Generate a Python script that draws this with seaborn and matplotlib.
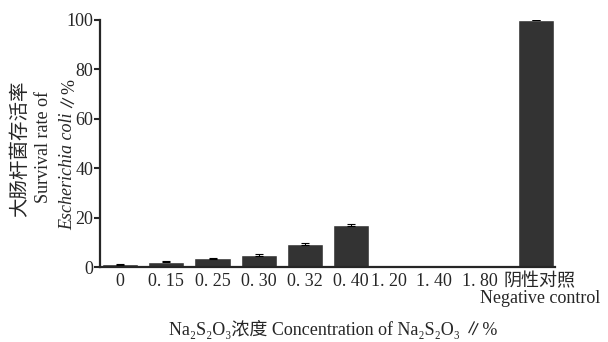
import numpy as np
import seaborn as sns
import pandas as pd
from matplotlib import pyplot as plt
from matplotlib.transforms import ScaledTranslation

# Na2S2O3 concentration groups and E. coli survival rate (%)
conc_labels = ["0", "0. 15", "0. 25", "0. 30", "0. 32", "0. 40", "1. 20", "1. 40", "1. 80",
               "阴性对照"]
control_en = "Negative control"
survival = [1.1, 2.1, 3.5, 4.9, 9.4, 17.0, 0.0, 0.0, 0.0, 100.0]
survival_sd = [0.2, 0.2, 0.2, 0.3, 0.5, 0.3, 0.0, 0.0, 0.0, 0.0]

sns.set_style("ticks")
plt.rcParams["font.family"] = ["Liberation Serif", "Noto Sans CJK SC", "DejaVu Serif"]

df = pd.DataFrame({"conc": conc_labels, "rate": survival, "sd": survival_sd})

fig = plt.figure(figsize=(6.08, 3.42), dpi=100)
ax = fig.add_axes([100 / 608, 1 - 267 / 342, 455 / 608, 247 / 342])

sns.barplot(data=df, x="conc", y="rate", color="#333333", saturation=1,
            width=0.78, errorbar=None, ax=ax)
ax.errorbar(np.arange(len(df)), df["rate"], yerr=df["sd"], fmt="none",
            ecolor="black", elinewidth=0.8, capsize=3, capthick=0.8)

ax.set_xlim(-0.434, 9.41)
ax.set_ylim(0, 100)
ax.set_yticks([0, 20, 40, 60, 80, 100])
ax.tick_params(axis="y", labelsize=13, width=1.5, length=4, direction="out", pad=1)
ax.tick_params(axis="x", labelsize=13, length=0, pad=4)
# the last few labels sit a little off their bars in the original
shifts = [0, 0, 0, 0, 0, 0, -8, -10, -10, 3]
for lab, dx in zip(ax.get_xticklabels(), shifts):
    lab.set_transform(lab.get_transform() + ScaledTranslation(dx / 100, 0, fig.dpi_scale_trans))
# English line of the control label, under its Chinese name
ax.text(len(df) - 1, -0.126, control_en, transform=ax.get_xaxis_transform()
        + ScaledTranslation(4 / 100, 0, fig.dpi_scale_trans),
        ha="center", va="center", fontsize=13)
sns.despine(ax=ax)
for s in ["left", "bottom"]:
    ax.spines[s].set_linewidth(1.6)
ax.set_xlabel("")
ax.set_ylabel("")

# multi-line axis titles
fig.text(20 / 608, 1 - 149 / 342, "大肠杆菌存活率", rotation=90, ha="center", va="center",
         fontsize=14)
fig.text(44 / 608, 1 - 147 / 342, "Survival rate of", rotation=90, ha="center", va="center",
         fontsize=13)
t_it = fig.text(68 / 608, 1 - 230 / 342, "Escherichia coli", rotation=90, ha="center",
                va="bottom", fontsize=13, style="italic")
fig.canvas.draw()
ext = t_it.get_window_extent()
fig.text(68 / 608, (ext.y1 + 5) / 342, "∥%", rotation=90, ha="center", va="bottom",
         fontsize=13)
fig.text(333 / 608, 1 - 329 / 342, "Na₂S₂O₃浓度 Concentration of Na₂S₂O₃ ∥%",
         ha="center", va="center", fontsize=13)

fig.savefig("out.png", dpi=100, facecolor="white")
